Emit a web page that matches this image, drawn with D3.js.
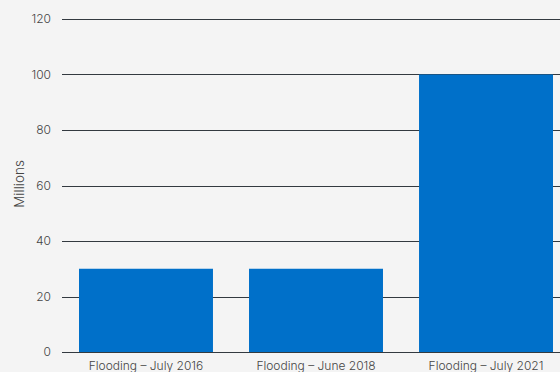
<!DOCTYPE html>
<html><head><meta charset="utf-8">
<script src="https://cdn.jsdelivr.net/npm/d3@7"></script>
<style>html,body{margin:0;padding:0;background:#f4f4f4;}svg{display:block;}</style>
</head><body>
<svg id="chart" width="560" height="372"></svg>
<script>
const categories = ["Flooding – July 2016", "Flooding – June 2018", "Flooding – July 2021"];
const values = [30, 30, 100];
const yTicks = [0, 20, 40, 60, 80, 100, 120];
const yLabel = "Millions";

const svg = d3.select("#chart");
const W = 560, H = 372;
svg.append("rect").attr("width", W).attr("height", H).attr("fill", "#f4f4f4");

const x = d3.scaleBand().domain(categories).range([62, 570]).paddingInner(0.212).paddingOuter(0.1);
const y = d3.scaleLinear().domain([0, 120]).range([352, 19]);

const font = "Inter, 'Open Sans', sans-serif";

const grid = svg.append("g");
grid.selectAll("line").data(yTicks).join("line")
  .attr("x1", 62).attr("x2", W)
  .attr("y1", d => Math.round(y(d)) + 0.5).attr("y2", d => Math.round(y(d)) + 0.5)
  .attr("stroke", "#333a40").attr("stroke-width", 1);

svg.append("g").selectAll("rect").data(values).join("rect")
  .attr("x", (d, i) => x(categories[i]))
  .attr("width", x.bandwidth())
  .attr("y", d => y(d))
  .attr("height", d => y(0) - y(d))
  .attr("fill", "#0070c9");

svg.append("line").attr("x1", 62).attr("x2", W)
  .attr("y1", Math.round(y(0)) + 0.5).attr("y2", Math.round(y(0)) + 0.5)
  .attr("stroke", "#333a40");

svg.append("g").selectAll("text").data(yTicks).join("text")
  .attr("x", 51).attr("y", d => y(d)).attr("dy", "0.35em")
  .attr("text-anchor", "end").attr("font-family", font).attr("font-size", 12)
  .attr("font-weight", 300)
  .attr("fill", "#444").text(d => d);

svg.append("g").selectAll("text").data(categories).join("text")
  .attr("x", d => x(d) + x.bandwidth() / 2).attr("y", 370)
  .attr("text-anchor", "middle").attr("font-family", font).attr("font-size", 12)
  .attr("font-weight", 300)
  .attr("fill", "#444").text(d => d);

svg.append("text").attr("transform", "translate(24,184) rotate(-90)")
  .attr("text-anchor", "middle").attr("font-family", font).attr("font-size", 13.5)
  .attr("font-weight", 300)
  .attr("fill", "#444").text(yLabel);
</script>
</body></html>
